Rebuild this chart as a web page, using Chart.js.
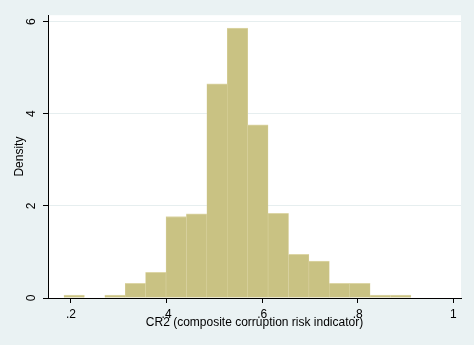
<!DOCTYPE html>
<html>
<head>
<meta charset="utf-8">
<script src="https://cdn.jsdelivr.net/npm/chart.js@4/dist/chart.umd.min.js"></script>
<style>
  html, body { margin: 0; padding: 0; background: #EAF2F3; }
  #wrap { width: 474px; height: 345px; }
</style>
</head>
<body>
<div id="wrap"><canvas id="c" width="474" height="345"></canvas></div>
<script>
// Histogram of CR2: 17 equal-width bins, density scale
const binStart = 0.1854;
const binWidth = 0.0427;
const densities = [0.065, 0, 0.065, 0.32, 0.56, 1.77, 1.83, 4.65, 5.86, 3.76, 1.84, 0.95, 0.80, 0.32, 0.32, 0.065, 0.065];
const xTicks = [0.2, 0.4, 0.6, 0.8, 1];
const yTicks = [0, 2, 4, 6];
const xLabel = 'CR2 (composite corruption risk indicator)';
const yLabel = 'Density';

const points = densities.map((d, i) => ({ x: binStart + binWidth * (i + 0.5), y: d }));

// white plot region on the light graph background
const plotRegion = {
  id: 'plotRegion',
  beforeDraw(chart) {
    const { ctx, chartArea: a } = chart;
    ctx.save();
    ctx.fillStyle = '#EAF2F3';
    ctx.fillRect(0, 0, chart.width, chart.height);
    ctx.fillStyle = '#FFFFFF';
    ctx.fillRect(a.left, a.top, a.right - a.left, a.bottom - a.top);
    ctx.restore();
  }
};

const fontFamily = '"Liberation Sans", Arial, sans-serif';

new Chart(document.getElementById('c'), {
  type: 'bar',
  data: {
    datasets: [{
      data: points,
      backgroundColor: '#C9C283',
      borderColor: '#DDD6A6',
      borderWidth: { top: 1, left: 0.5, right: 0.5, bottom: 0 },
      borderSkipped: false,
      barPercentage: 1,
      categoryPercentage: 1
    }]
  },
  plugins: [plotRegion],
  options: {
    responsive: false,
    animation: false,
    layout: { padding: { left: 0, top: 13, right: 13, bottom: 0 } },
    plugins: { legend: { display: false }, tooltip: { enabled: false } },
    scales: {
      x: {
        type: 'linear',
        offset: false,
        min: 0.152,
        max: 1.016,
        afterBuildTicks(scale) { scale.ticks = xTicks.map(v => ({ value: v })); },
        afterFit(scale) { scale.height = 47; },
        ticks: {
          color: '#000',
          font: { family: fontFamily, size: 12 },
          padding: 4,
          maxRotation: 0,
          autoSkip: false,
          callback: v => (v === 1 ? '1' : String(+v.toFixed(2)).replace(/^0/, ''))
        },
        grid: { offset: false, drawOnChartArea: false, tickLength: 5, tickColor: '#000', tickWidth: 1 },
        border: { color: '#000', width: 1 },
        title: {
          display: true,
          text: xLabel,
          color: '#000',
          font: { family: fontFamily, size: 12 },
          padding: { top: 0, bottom: 15 }
        }
      },
      y: {
        min: 0,
        max: 6.14,
        afterBuildTicks(scale) { scale.ticks = yTicks.map(v => ({ value: v })); },
        afterFit(scale) { scale.width = 48; },
        ticks: {
          color: '#000',
          font: { family: fontFamily, size: 12 },
          minRotation: 90,
          maxRotation: 90,
          crossAlign: 'center',
          padding: 8,
          autoSkip: false
        },
        grid: {
          color: ctx => (ctx.tick && ctx.tick.value === 0 ? 'rgba(0,0,0,0)' : '#E6EEEF'),
          lineWidth: 1,
          tickLength: 5,
          tickColor: '#000',
          tickWidth: 1
        },
        border: { color: '#000', width: 1 },
        title: {
          display: true,
          text: yLabel,
          color: '#000',
          font: { family: fontFamily, size: 12 },
          padding: { top: 12, bottom: 0 }
        }
      }
    }
  }
});
</script>
</body>
</html>
